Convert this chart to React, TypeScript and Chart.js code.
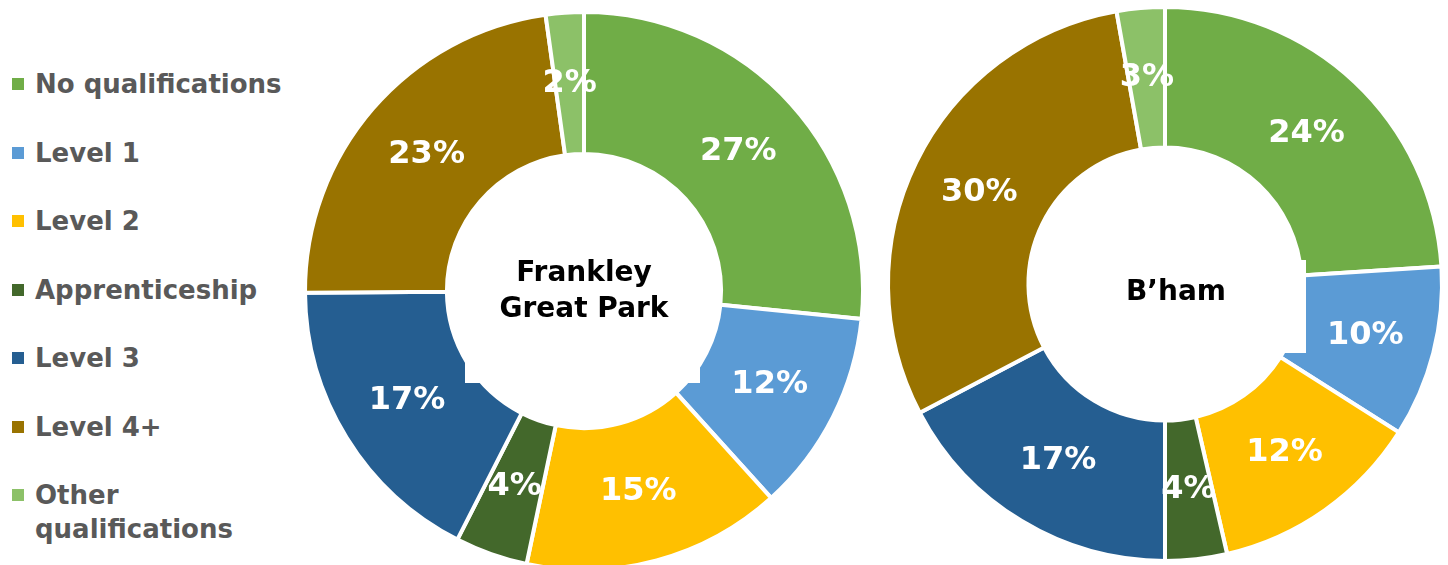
import React, { useEffect, useRef } from "react";
import { Chart, registerables } from "chart.js";

Chart.register(...registerables);

const categories = [
  "No qualifications",
  "Level 1",
  "Level 2",
  "Apprenticeship",
  "Level 3",
  "Level 4+",
  "Other qualifications",
];
const legendLines = [
  ["No qualifications"],
  ["Level 1"],
  ["Level 2"],
  ["Apprenticeship"],
  ["Level 3"],
  ["Level 4+"],
  ["Other", "qualifications"],
];
const frankleyValues = [26.6, 11.7, 15.0, 4.2, 17.4, 22.9, 2.2];
const bhamValues = [24.0, 10.0, 12.4, 3.6, 17.3, 29.9, 2.8];
const colors = ["#70AD47", "#5B9BD5", "#FFC000", "#43682B", "#255E91", "#997300", "#8CC168"];

const FONT = "'DejaVu Sans', Verdana, sans-serif";

type BoxSpec = { x: number; y: number; w: number; h: number };

function makeConfig(values: number[], centerLines: string[], box: BoxSpec, textDy: number, textDx: number, radius: number, cutout: number, padBottom: number) {
  const plugin = {
    id: "labels",
    afterDatasetsDraw(chart: any) {
      const ctx = chart.ctx;
      const meta = chart.getDatasetMeta(0);
      const first = meta.data[0];
      const cx = first.x;
      const cy = first.y;
      ctx.save();
      // white text box
      ctx.fillStyle = "#ffffff";
      ctx.fillRect(cx + box.x, cy + box.y, box.w, box.h);
      // percentage labels
      ctx.fillStyle = "#ffffff";
      ctx.font = `bold 32px ${FONT}`;
      ctx.textAlign = "center";
      ctx.textBaseline = "middle";
      meta.data.forEach((arc: any, i: number) => {
        const p = arc.tooltipPosition();
        ctx.fillText(Math.round(values[i]) + "%", p.x, p.y);
      });
      // center text
      ctx.fillStyle = "#000000";
      ctx.font = `bold 28px ${FONT}`;
      const lh = 36;
      const n = centerLines.length;
      centerLines.forEach((t, i) => {
        ctx.fillText(t, cx + textDx, cy + textDy + (i - (n - 1) / 2) * lh);
      });
      ctx.restore();
    },
  };
  return {
    type: "doughnut" as const,
    data: {
      labels: categories,
      datasets: [
        {
          data: values,
          backgroundColor: colors,
          borderColor: "#ffffff",
          borderWidth: 4,
        },
      ],
    },
    options: {
      animation: false as const,
      responsive: false,
      radius: radius,
      cutout: cutout,
      layout: { padding: { top: 0, bottom: padBottom, left: 0, right: 0 } },
      plugins: {
        legend: { display: false },
        tooltip: { enabled: false },
      },
    },
    plugins: [plugin],
  };
}

function Donut(props: { left: number; values: number[]; lines: string[]; box: BoxSpec; textDy: number; textDx: number; radius: number; cutout: number; padBottom: number }) {
  const ref = useRef<HTMLCanvasElement>(null);
  useEffect(() => {
    if (!ref.current) return;
    const chart = new Chart(
      ref.current,
      makeConfig(props.values, props.lines, props.box, props.textDy, props.textDx, props.radius, props.cutout, props.padBottom) as any
    );
    return () => chart.destroy();
  }, []);
  return (
    <canvas
      ref={ref}
      width={590}
      height={600}
      style={{ position: "absolute", left: props.left, top: 0, width: 590, height: 600 }}
    />
  );
}

export default function App() {
  return (
    <div
      style={{
        position: "fixed",
        left: 0,
        top: 0,
        width: 1448,
        height: 565,
        overflow: "hidden",
        background: "#ffffff",
      }}
    >
      {legendLines.map((lines, i) => (
        <div
          key={i}
          style={{
            position: "absolute",
            left: 12,
            top: 84 + i * 68.5 - 17,
            height: 34,
            display: "flex",
            alignItems: "flex-start",
          }}
        >
          <div
            style={{
              width: 12,
              height: 12,
              marginTop: 11,
              background: colors[i],
              flex: "none",
            }}
          />
          <div
            style={{
              marginLeft: 11,
              font: `bold 26px ${FONT}`,
              lineHeight: "34px",
              color: "#595959",
              whiteSpace: "nowrap",
            }}
          >
            {lines.map((l, j) => (
              <div key={j}>{l}</div>
            ))}
          </div>
        </div>
      ))}
      <Donut
        left={289}
        values={frankleyValues}
        lines={["Frankley", "Great Park"]}
        box={{ x: -119, y: -70, w: 235, h: 162 }}
        textDy={1}
        textDx={0}
        radius={279}
        cutout={142}
        padBottom={18}
      />
      <Donut
        left={870}
        values={bhamValues}
        lines={["B\u2019ham"]}
        box={{ x: -119, y: -24, w: 260, h: 93 }}
        textDy={9}
        textDx={11}
        radius={277}
        cutout={139}
        padBottom={32}
      />
    </div>
  );
}
